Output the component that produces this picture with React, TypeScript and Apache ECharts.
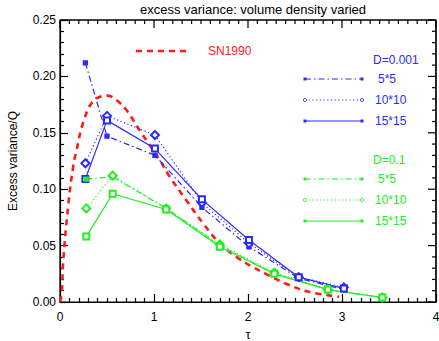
import React, { useEffect, useRef } from "react";
import * as echarts from "echarts";

const FONT = "Liberation Sans, Arial, sans-serif";
const BLUE = "#2a2aff";
const GREEN = "#22ee22";
const RED = "#ff1a1a";

const xTicks = [0, 1, 2, 3, 4];
const yTicks = [0, 0.05, 0.1, 0.15, 0.2, 0.25];
const xMinorStep = 0.1;
const yMinorStep = 0.01;

// SN1990 model curve
const sn1990X = [0.0, 0.018, 0.035, 0.088, 0.14, 0.177, 0.25, 0.354, 0.506, 0.6, 0.708, 0.849, 1.06, 1.168, 1.345, 1.52, 1.7, 1.876, 2.05, 2.19, 2.41, 2.65, 2.97];
const sn1990Y = [0.0, 0.008, 0.037, 0.086, 0.12, 0.135, 0.16, 0.178, 0.183, 0.179, 0.17, 0.152, 0.126, 0.111, 0.09, 0.07, 0.052, 0.04, 0.031, 0.025, 0.016, 0.009, 0.0047];

// D = 0.001 (blue)
const blueTau = [0.27, 0.5, 1.01, 1.51, 2.01, 2.54, 3.02];
const blue5 = [0.212, 0.147, 0.13, 0.084, 0.049, 0.021, 0.011];
const blue10 = [0.123, 0.165, 0.148, 0.088, 0.052, 0.022, 0.013];
const blue15 = [0.109, 0.161, 0.136, 0.091, 0.055, 0.022, 0.012];

// D = 0.1 (green)
const greenTau = [0.28, 0.56, 1.13, 1.7, 2.28, 2.85, 3.43];
const green5 = [0.109, 0.111, 0.083, 0.05, 0.025, 0.011, 0.004];
const green10 = [0.083, 0.112, 0.083, 0.051, 0.026, 0.011, 0.004];
const green15 = [0.058, 0.096, 0.082, 0.049, 0.025, 0.011, 0.004];

const legendLabels = ["5*5", "10*10", "15*15"];

const zip = (xs: number[], ys: number[]) => xs.map((x, i) => [x, ys[i]]);

const dashDot = [6, 3, 1.5, 3];
const dotted = [1.2, 2.5];

function makeAxis(position: string, isX: boolean, showLabel: boolean) {
  return {
    type: "value",
    position,
    min: isX ? xTicks[0] : yTicks[0],
    max: isX ? xTicks[xTicks.length - 1] : yTicks[yTicks.length - 1],
    interval: isX ? 1 : 0.05,
    axisLine: { show: true, onZero: false, lineStyle: { color: "#000", width: 1.2 } },
    axisTick: { show: true, inside: true, length: 8, lineStyle: { color: "#000", width: 1.2 } },
    minorTick: { show: true, splitNumber: isX ? 10 : 5, length: 4, lineStyle: { color: "#000", width: 1.2 } },
    splitLine: { show: false },
    minorSplitLine: { show: false },
    axisLabel: showLabel
      ? { show: true, color: "#000", fontSize: 12, margin: isX ? 9 : 4, fontFamily: FONT, formatter: isX ? (v: number) => String(v) : (v: number) => v.toFixed(2) }
      : { show: false },
  };
}

export default function App() {
  const ref = useRef<HTMLDivElement>(null);
  useEffect(() => {
    if (!ref.current) return;
    const chart = echarts.init(ref.current, undefined, { renderer: "svg" });

    const mkSeries = (name: string, xs: number[], ys: number[], color: string, dash: any, symbol: string, size: number) => ({
      name,
      type: "line",
      data: zip(xs, ys),
      symbol,
      symbolSize: size,
      showSymbol: true,
      lineStyle: { color, width: 1.2, type: dash },
      itemStyle: { color, borderColor: color, borderWidth: 1.3 },
      z: 3,
    });

    const legendItems = (color: string, title: string, titleY: number, ys: number[], titleX: number) => {
      const els: any[] = [
        { type: "text", x: titleX, y: titleY, style: { text: title, fill: color, font: `12px ${FONT}`, textVerticalAlign: "middle" } },
      ];
      const dashes = [dashDot, dotted, null];
      ys.forEach((y, i) => {
        els.push({ type: "line", shape: { x1: 305, y1: y, x2: 362, y2: y }, style: { stroke: color, lineWidth: 1.2, lineDash: dashes[i] || undefined } });
        if (i === 1) {
          els.push({ type: "circle", shape: { cx: 305, cy: y, r: 1.6 }, style: { fill: "#fff", stroke: color, lineWidth: 1 } });
          els.push({ type: "circle", shape: { cx: 362, cy: y, r: 1.6 }, style: { fill: "#fff", stroke: color, lineWidth: 1 } });
        } else {
          els.push({ type: "rect", shape: { x: 303.5, y: y - 1.5, width: 3, height: 3 }, style: { fill: color } });
          els.push({ type: "rect", shape: { x: 360.5, y: y - 1.5, width: 3, height: 3 }, style: { fill: color } });
        }
        els.push({ type: "text", x: i === 0 ? 378 : 375, y, style: { text: legendLabels[i], fill: color, font: `12px ${FONT}`, textVerticalAlign: "middle" } });
      });
      return els;
    };

    const option: any = {
      animation: false,
      backgroundColor: "#fff",
      textStyle: { fontFamily: FONT },
      title: {
        text: "excess variance: volume density varied",
        left: 248,
        top: -2,
        textAlign: "center",
        textStyle: { fontSize: 13, fontWeight: "normal", color: "#000", fontFamily: FONT },
      },
      grid: {
        left: 60,
        right: 3,
        top: 20,
        bottom: 39,
        containLabel: false,
        outerBoundsMode: "none",
        show: true,
        borderColor: "#000",
        borderWidth: 1.2,
        backgroundColor: "transparent",
      },
      xAxis: {
        ...makeAxis("bottom", true, true),
        name: "τ",
        nameLocation: "middle",
        nameGap: 24,
        nameTextStyle: { color: "#000", fontSize: 13, fontFamily: FONT },
      },
      yAxis: {
        ...makeAxis("left", false, true),
        name: "Excess variance/Q",
        nameLocation: "middle",
        nameGap: 41,
        nameTextStyle: { color: "#000", fontSize: 12, fontFamily: FONT },
      },
      series: [
        {
          name: "SN1990",
          type: "line",
          data: zip(sn1990X, sn1990Y),
          smooth: 0.4,
          showSymbol: false,
          symbol: "none",
          lineStyle: { color: RED, width: 2.6, type: [6, 5] },
          z: 2,
        },
        mkSeries("D=0.001 5*5", blueTau, blue5, BLUE, dashDot, "rect", 4),
        mkSeries("D=0.001 10*10", blueTau, blue10, BLUE, dotted, "emptyDiamond", 8),
        mkSeries("D=0.001 15*15", blueTau, blue15, BLUE, "solid", "emptyRect", 6),
        mkSeries("D=0.1 5*5", greenTau, green5, GREEN, dashDot, "rect", 4),
        mkSeries("D=0.1 10*10", greenTau, green10, GREEN, dotted, "emptyDiamond", 8),
        mkSeries("D=0.1 15*15", greenTau, green15, GREEN, "solid", "emptyRect", 6),
      ],
    };
    chart.setOption(option);

    // Frame and tick marks on the top and right sides, positioned through the chart's own scales
    const extra: any[] = [];
    const xMin = xTicks[0], xMax = xTicks[xTicks.length - 1];
    const yMin = yTicks[0], yMax = yTicks[yTicks.length - 1];
    const px = (x: number, y: number) => {
      const p = chart.convertToPixel({ gridIndex: 0 }, [x, y]) as number[];
      return p && isFinite(p[0]) && isFinite(p[1]) ? p : null;
    };
    const tickStyle = { stroke: "#000", lineWidth: 1.2 };
    const tl = px(xMin, yMax);
    const br = px(xMax, yMin);
    if (tl && br) {
      extra.push({ type: "line", silent: true, z: 10, shape: { x1: tl[0], y1: tl[1], x2: br[0], y2: tl[1] }, style: tickStyle });
      extra.push({ type: "line", silent: true, z: 10, shape: { x1: br[0], y1: tl[1], x2: br[0], y2: br[1] }, style: tickStyle });
    }
    const nX = Math.round((xMax - xMin) / xMinorStep);
    for (let i = 0; i <= nX; i++) {
      const v = xMin + i * xMinorStep;
      const major = xTicks.some((t) => Math.abs(t - v) < 1e-9);
      const len = major ? 8 : 4;
      const t = px(v, yMax);
      if (t) extra.push({ type: "line", silent: true, z: 10, shape: { x1: t[0], y1: t[1], x2: t[0], y2: t[1] + len }, style: tickStyle });
    }
    const nY = Math.round((yMax - yMin) / yMinorStep);
    for (let i = 0; i <= nY; i++) {
      const v = yMin + i * yMinorStep;
      const major = yTicks.some((t) => Math.abs(t - v) < 1e-9);
      const len = major ? 8 : 4;
      const r = px(xMax, v);
      if (r) extra.push({ type: "line", silent: true, z: 10, shape: { x1: r[0], y1: r[1], x2: r[0] - len, y2: r[1] }, style: tickStyle });
    }

    chart.setOption({
      graphic: [
        { type: "line", shape: { x1: 136, y1: 51, x2: 188, y2: 51 }, style: { stroke: RED, lineWidth: 2.6, lineDash: [6, 5] } },
        { type: "text", x: 208, y: 51, style: { text: "SN1990", fill: RED, font: `12px ${FONT}`, textVerticalAlign: "middle" } },
        ...legendItems(BLUE, "D=0.001", 60, [79, 100, 121], 373),
        ...legendItems(GREEN, "D=0.1", 160, [179, 200, 221], 373),
        ...extra,
      ],
    });
    return () => chart.dispose();
  }, []);
  return <div ref={ref} style={{ width: 439, height: 341, position: "absolute", left: 0, top: 0 }} />;
}
